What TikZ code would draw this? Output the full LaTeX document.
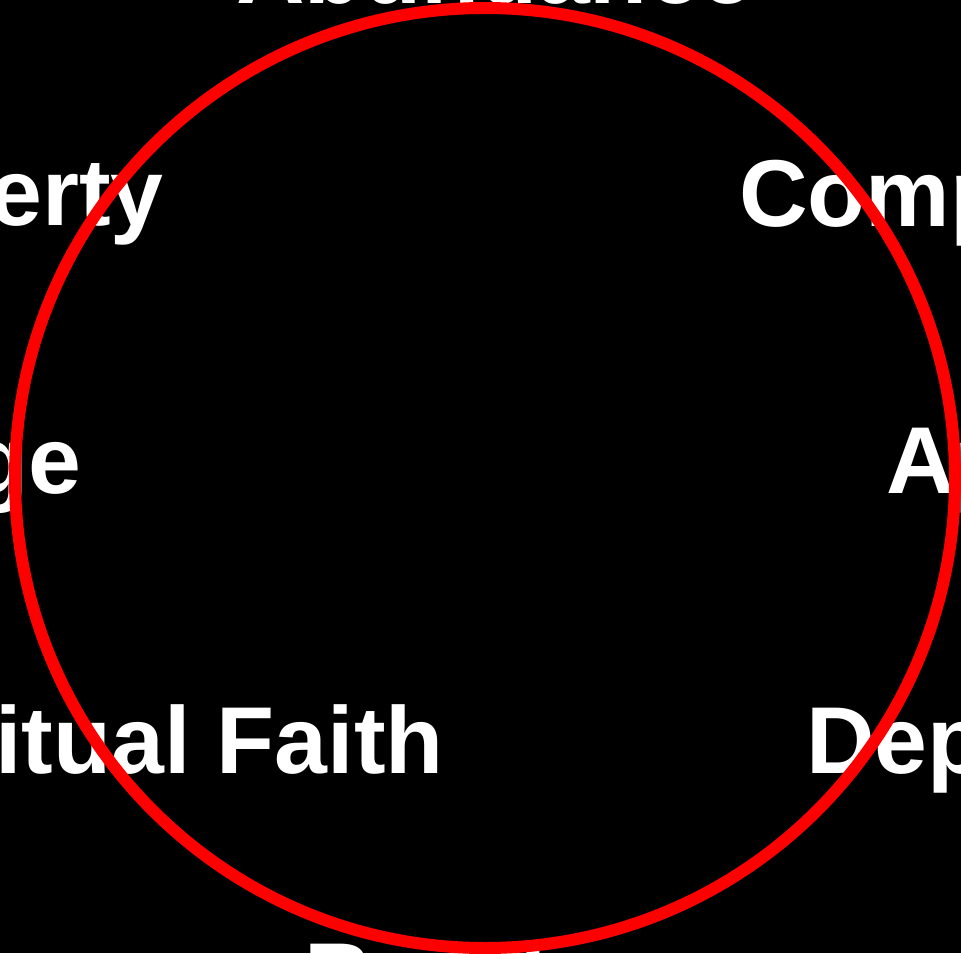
\documentclass[tikz,border=0pt]{standalone}
\usepackage{fontspec}
\setmainfont{Liberation Sans}
\begin{document}
\begin{tikzpicture}[x=1pt,y=-1pt,
  lbl/.style={text=white,inner sep=0pt,font=\bfseries\fontsize{95}{100}\selectfont},
  ring/.style={draw=red,line width=12pt}]
\useasboundingbox (0,0) rectangle (961,953);
\clip (0,0) rectangle (961,953);
\fill[black] (0,0) rectangle (961,953);
\node[lbl,anchor=base] (abundance) at (495,3) {Abundance};
\node[lbl,anchor=base east] (liberty) at (164,225) {Liberty};
\node[lbl,anchor=base west] (complacency) at (739,226) {Complacency};
\node[lbl,anchor=base east] (courage) at (82,493) {Courage};
\node[lbl,anchor=base west] (apathy) at (886,493) {Apathy};
\node[lbl,anchor=base east] (faith) at (444,773) {Spiritual Faith};
\node[lbl,anchor=base west] (dependence) at (806,773) {Dependence};
\node[lbl,anchor=base west] (bondage) at (304,1009) {Bondage};
\draw[ring] (485,478) circle[radius=470];
\end{tikzpicture}
\end{document}
